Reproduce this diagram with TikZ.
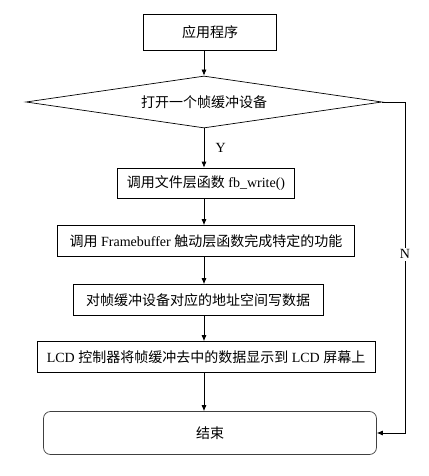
\documentclass[tikz,border=0pt]{standalone}
\usepackage{fontspec}
\setmainfont{Liberation Serif}
\newfontfamily\cjk{Noto Sans CJK SC}
\usetikzlibrary{shapes.geometric,arrows.meta}
\newcommand{\zh}[1]{{\cjk #1}}

\begin{document}
\begin{tikzpicture}[
    x=1pt, y=-1pt,
    >={Latex[length=6pt,width=5pt]}, % 矢印のスタイル
    every node/.style={font=\fontsize{14pt}{16pt}\selectfont},
    stepbox/.style={draw, line width=0.7pt, inner sep=0pt, minimum height=31pt},
    choice/.style={draw, diamond, line width=0.7pt, inner sep=0pt, aspect=6.8,
        minimum width=356pt, minimum height=52pt},
    endbox/.style={draw=black!75, line width=0.7pt, rounded corners=7pt,
        minimum width=333pt, minimum height=43pt},
    flow/.style={->, line width=0.7pt},
    ]

    \useasboundingbox (0,0) rectangle (428,476);
    % 流れの中心線
    \coordinate (axis) at (204,0);

    % --- 処理ボックス ---
    \node[stepbox, minimum width=133pt, minimum height=36pt] (app) at (210,32) {\zh{应用程序}};
    \node[choice] (open) at (204,102) {\zh{打开一个帧缓冲设备}};
    \node[stepbox, minimum width=177pt, minimum height=30pt] (write) at (206,183) {\zh{调用文件层函数} fb\_write()};
    \node[stepbox, minimum width=297pt] (drv) at (206,241) {\zh{调用} Framebuffer \zh{触动层函数完成特定的功能}};
    \node[stepbox, minimum width=250pt] (mem) at (198,300) {\zh{对帧缓冲设备对应的地址空间写数据}};
    \node[stepbox, minimum width=338pt] (lcd) at (206,357) {LCD \zh{控制器将帧缓冲去中的数据显示到} LCD \zh{屏幕上}};
    \node[endbox] (end) at (210,433) {\zh{结束}};

    % --- 矢印 ---
    \draw[flow] (app.south -| axis) -- (open.north);
    \draw[flow] (open.south) -- (write.north -| axis) node[pos=0.5, right=8pt] {Y};
    \draw[flow] (write.south -| axis) -- (drv.north -| axis);
    \draw[flow] (drv.south -| axis) -- (mem.north -| axis);
    \draw[flow] (mem.south -| axis) -- (lcd.north -| axis);
    \draw[flow] (lcd.south -| axis) -- (end.north -| axis);

    % N の分岐
    \coordinate (turn) at (405,0);
    \draw[flow] (open.east) -- (open.east -| turn) |- node[pos=0.23, fill=white, inner sep=2pt] {N} (end.east);

\end{tikzpicture}
\end{document}
